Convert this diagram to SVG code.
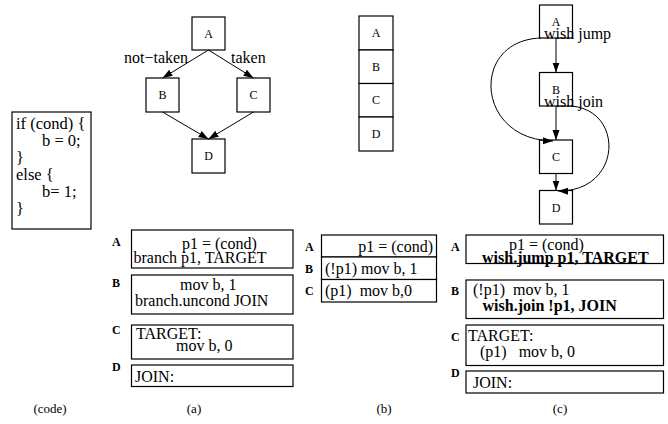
<svg xmlns="http://www.w3.org/2000/svg" width="668" height="424" viewBox="0 0 668 424">
  <style>
    text { font-family: "Liberation Serif", "Times New Roman", serif; fill: #000; }
    .box { fill: #fff; stroke: #000; stroke-width: 1.2; }
    .edge { fill: none; stroke: #000; stroke-width: 1; }
    .n { font-size: 12px; text-anchor: middle; }
    .lab { font-size: 16px; }
    .code { font-size: 16.5px; }
    .asm { font-size: 16px; }
    .tag { font-size: 12px; font-weight: bold; }
    .b { font-weight: bold; }
    .cap { font-size: 13px; text-anchor: middle; }
  </style>
  <defs>
    <marker id="ah" viewBox="0 0 10 10" refX="10" refY="5" markerWidth="10" markerHeight="10" markerUnits="userSpaceOnUse" orient="auto">
      <path d="M0,1.5 L10,5 L0,8.5 z" fill="#000"/>
    </marker>
  </defs>

  <!-- source code -->
  <g id="source">
    <rect class="box" x="12" y="112" width="79" height="117"/>
    <text class="code" x="16" y="129">if (cond) {</text>
    <text class="code" x="42" y="146">b = 0;</text>
    <text class="code" x="16" y="163">}</text>
    <text class="code" x="16" y="180">else {</text>
    <text class="code" x="42" y="197">b= 1;</text>
    <text class="code" x="16" y="214">}</text>
  </g>

  <!-- (a) control-flow graph -->
  <g id="a-A"><rect class="box" x="192" y="17" width="33" height="33"/><text class="n" x="208.5" y="38">A</text></g>
  <g id="a-B"><rect class="box" x="146" y="78" width="33" height="34"/><text class="n" x="162.5" y="99">B</text></g>
  <g id="a-C"><rect class="box" x="237" y="78" width="33" height="34"/><text class="n" x="253.5" y="99">C</text></g>
  <g id="a-D"><rect class="box" x="192" y="139" width="33" height="34"/><text class="n" x="208.5" y="160">D</text></g>
  <g id="a-edges">
    <path class="edge" d="M208.5,50 L162.5,78" marker-end="url(#ah)"/>
    <path class="edge" d="M208.5,50 L253.5,78" marker-end="url(#ah)"/>
    <path class="edge" d="M162.5,112 L208.5,139" marker-end="url(#ah)"/>
    <path class="edge" d="M253.5,112 L208.5,139" marker-end="url(#ah)"/>
    <text class="lab" x="124" y="63">not−taken</text>
    <text class="lab" x="231" y="63">taken</text>
  </g>

  <!-- (b) straight-line layout -->
  <g id="b-A"><rect class="box" x="359" y="16" width="34" height="34"/><text class="n" x="376" y="37">A</text></g>
  <g id="b-B"><rect class="box" x="359" y="50" width="34" height="33.5"/><text class="n" x="376" y="71">B</text></g>
  <g id="b-C"><rect class="box" x="359" y="83.5" width="34" height="33.5"/><text class="n" x="376" y="104">C</text></g>
  <g id="b-D"><rect class="box" x="359" y="117" width="34" height="34"/><text class="n" x="376" y="138">D</text></g>

  <!-- (c) wish-branch graph -->
  <g id="c-A"><rect class="box" x="539.5" y="5" width="33" height="33"/><text class="n" x="556" y="26">A</text></g>
  <g id="c-B"><rect class="box" x="539.5" y="72.5" width="33" height="33.5"/><text class="n" x="556" y="94">B</text></g>
  <g id="c-C"><rect class="box" x="539.5" y="140" width="33" height="33.5"/><text class="n" x="556" y="161">C</text></g>
  <g id="c-D"><rect class="box" x="539.5" y="190.5" width="33" height="33.5"/><text class="n" x="556" y="212">D</text></g>
  <g id="c-edges">
    <path class="edge" d="M556,38 L556,72.5" marker-end="url(#ah)"/>
    <path class="edge" d="M556,106 L556,140" marker-end="url(#ah)"/>
    <path class="edge" d="M556,173.5 L556,190.5" marker-end="url(#ah)"/>
    <path class="edge" d="M541,38 C470,40 475,140 553,141" marker-end="url(#ah)"/>
    <path class="edge" d="M571,106 C625,110 622,192 558,191" marker-end="url(#ah)"/>
    <text class="lab" x="544" y="39">wish jump</text>
    <text class="lab" x="544" y="107">wish join</text>
  </g>

  <!-- (a) assembly -->
  <g id="asm-a-A">
    <rect class="box" x="131.5" y="230" width="161.5" height="38"/>
    <text class="tag" x="112" y="246">A</text>
    <text class="asm" x="182" y="249">p1 = (cond)</text>
    <text class="asm" x="133.5" y="263">branch p1, TARGET</text>
  </g>
  <g id="asm-a-B">
    <rect class="box" x="131.5" y="275" width="161.5" height="39"/>
    <text class="tag" x="112" y="287">B</text>
    <text class="asm" x="180" y="290">mov b, 1</text>
    <text class="asm" x="135" y="306">branch.uncond JOIN</text>
  </g>
  <g id="asm-a-C">
    <rect class="box" x="131.5" y="325" width="161.5" height="34"/>
    <text class="tag" x="112" y="334">C</text>
    <text class="asm" x="136" y="339">TARGET:</text>
    <text class="asm" x="176" y="351">mov b, 0</text>
  </g>
  <g id="asm-a-D">
    <rect class="box" x="131.5" y="365" width="161.5" height="21.5"/>
    <text class="tag" x="112" y="371">D</text>
    <text class="asm" x="135" y="382">JOIN:</text>
  </g>

  <!-- (b) predicated assembly -->
  <g id="asm-b-A">
    <rect class="box" x="321.5" y="235" width="115" height="22"/>
    <text class="tag" x="305" y="251">A</text>
    <text class="asm" x="433" y="252" text-anchor="end">p1 = (cond)</text>
  </g>
  <g id="asm-b-B">
    <rect class="box" x="321.5" y="257" width="115" height="22.5"/>
    <text class="tag" x="305" y="273">B</text>
    <text class="asm" x="325" y="274">(!p1) mov b, 1</text>
  </g>
  <g id="asm-b-C">
    <rect class="box" x="321.5" y="279.5" width="115" height="22.5"/>
    <text class="tag" x="305" y="295">C</text>
    <text class="asm" x="325" y="296" xml:space="preserve">(p1)  mov b,0</text>
  </g>

  <!-- (c) wish-branch assembly -->
  <g id="asm-c-A">
    <rect class="box" x="466" y="235" width="197.5" height="28.5"/>
    <text class="tag" x="451" y="251">A</text>
    <text class="asm" x="509" y="250">p1 = (cond)</text>
    <text class="asm b" x="482" y="263">wish.jump p1, TARGET</text>
  </g>
  <g id="asm-c-B">
    <rect class="box" x="466" y="280" width="197.5" height="38.5"/>
    <text class="tag" x="451" y="295">B</text>
    <text class="asm" x="473" y="295" xml:space="preserve">(!p1)  mov b, 1</text>
    <text class="asm b" x="482.5" y="311">wish.join !p1, JOIN</text>
  </g>
  <g id="asm-c-C">
    <rect class="box" x="466" y="325" width="197.5" height="40.5"/>
    <text class="tag" x="451" y="341">C</text>
    <text class="asm" x="468" y="341">TARGET:</text>
    <text class="asm" x="480" y="357" xml:space="preserve">(p1)   mov b, 0</text>
  </g>
  <g id="asm-c-D">
    <rect class="box" x="466" y="371" width="197.5" height="22"/>
    <text class="tag" x="451" y="377">D</text>
    <text class="asm" x="473" y="388">JOIN:</text>
  </g>

  <!-- captions -->
  <g id="captions">
    <text class="cap" x="50" y="413">(code)</text>
    <text class="cap" x="194" y="413">(a)</text>
    <text class="cap" x="384" y="413">(b)</text>
    <text class="cap" x="560" y="413">(c)</text>
  </g>
</svg>
